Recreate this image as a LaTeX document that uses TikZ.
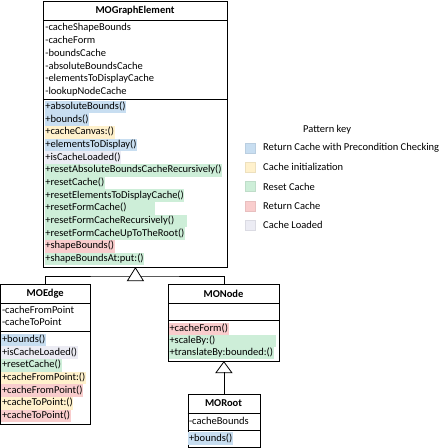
\documentclass[tikz,border=0pt]{standalone}
\usepackage{fontspec}
\setmainfont{Carlito}
\definecolor{hlblue}{RGB}{200,222,241}
\definecolor{hlyellow}{RGB}{255,241,204}
\definecolor{hlgreen}{RGB}{205,238,216}
\definecolor{hlred}{RGB}{249,205,205}
\definecolor{hlgray}{RGB}{236,236,244}
\newcommand\hrow[6][]{\node[rowtext,fill=#5,#1] (#2) at (#3,#4) {#6};}
\newcommand\prow[4]{\node[rowtext] (#1) at (#2,#3) {#4};}
\begin{document}
\begin{tikzpicture}[x=1pt,y=-1pt,
  every node/.style={font=\fontsize{10.5}{12.6}\selectfont},
  rowtext/.style={anchor=west,inner xsep=0.6pt,inner ysep=0pt,minimum height=12.7pt,text height=7.6pt,text depth=2.4pt},
  umlbox/.style={draw,line width=0.8pt,anchor=north west,inner sep=0pt},
  ttl/.style={font=\fontsize{10.5}{12.6}\selectfont\bfseries,inner sep=0pt},
  swatch/.style={minimum size=10pt,inner sep=0pt,line width=0.3pt},
  conn/.style={line width=0.8pt},
  gen/.style={line width=0.8pt,fill=white}]
\useasboundingbox (0,0) rectangle (442,448);
% ---------- MOGraphElement
\node[umlbox,minimum width=184pt,minimum height=266pt] (ge) at (43,1) {};
\node[ttl] (get) at (135,10.5) {MOGraphElement};
\draw[line width=0.8pt] (43,20) -- (227,20);
\draw[line width=0.8pt] (43,99) -- (227,99);
\prow{a1}{44.5}{28}{-cacheShapeBounds}
\prow{a2}{44.5}{40.8}{-cacheForm}
\prow{a3}{44.5}{53.6}{-boundsCache}
\prow{a4}{44.5}{66.4}{-absoluteBoundsCache}
\prow{a5}{44.5}{79.2}{-elementsToDisplayCache}
\prow{a6}{44.5}{92}{-lookupNodeCache}
\hrow{m1}{44.5}{107}{hlblue}{+absoluteBounds()}
\hrow{m2}{44.5}{119.67}{hlblue}{+bounds()}
\hrow{m3}{44.5}{132.33}{hlyellow}{+cacheCanvas:()}
\hrow{m4}{44.5}{145}{hlblue}{+elementsToDisplay()}
\hrow{m5}{44.5}{157.67}{hlgray}{+isCacheLoaded()}
\hrow{m6}{44.5}{170.33}{hlgreen}{+resetAbsoluteBoundsCacheRecursively()}
\hrow{m7}{44.5}{183}{hlgreen}{+resetCache()}
\hrow{m8}{44.5}{195.67}{hlgreen}{+resetElementsToDisplayCache()}
\hrow[text width=109pt,align=left]{m9}{44.5}{208.33}{hlgreen}{+resetFormCache()}
\hrow[text width=141pt,align=left]{m10}{44.5}{221}{hlgreen}{+resetFormCacheRecursively()}
\hrow{m11}{44.5}{233.67}{hlgreen}{+resetFormCacheUpToTheRoot()}
\hrow{m12}{44.5}{246.33}{hlred}{+shapeBounds()}
\hrow{m13}{44.5}{259}{hlgreen}{+shapeBoundsAt:put:()}
% ---------- Legend
\node[anchor=west,inner sep=0pt] (pk) at (303,130) {Pattern key};
\node[swatch,fill=hlblue,draw=hlblue!93!black] (s1) at (250,148) {};
\node[swatch,fill=hlyellow,draw=hlyellow!93!black] (s2) at (250,167.3) {};
\node[swatch,fill=hlgreen,draw=hlgreen!93!black] (s3) at (250,186.6) {};
\node[swatch,fill=hlred,draw=hlred!93!black] (s4) at (250,205.9) {};
\node[swatch,fill=hlgray,draw=hlgray!93!black] (s5) at (250,225.2) {};
\node[anchor=west,inner sep=0pt] (l1) at (263,148) {Return Cache with Precondition Checking};
\node[anchor=west,inner sep=0pt] (l2) at (263,167.3) {Cache initialization};
\node[anchor=west,inner sep=0pt] (l3) at (263,186.6) {Reset Cache};
\node[anchor=west,inner sep=0pt] (l4) at (263,205.9) {Return Cache};
\node[anchor=west,inner sep=0pt] (l5) at (263,225.2) {Cache Loaded};
% ---------- MOEdge
\node[umlbox,minimum width=89.5pt,minimum height=140pt] (me) at (0.5,284) {};
\node[ttl] (met) at (45.25,293.5) {MOEdge};
\draw[line width=0.8pt] (0.5,303) -- (90,303);
\draw[line width=0.8pt] (0.5,331) -- (90,331);
\prow{e1}{1.2}{311}{-cacheFromPoint}
\prow{e2}{1.2}{323}{-cacheToPoint}
\hrow{em1}{1.2}{340}{hlblue}{+bounds()}
\hrow{em2}{1.2}{352.67}{hlgray}{+isCacheLoaded()}
\hrow{em3}{1.2}{365.33}{hlgreen}{+resetCache()}
\hrow{em4}{1.2}{378}{hlyellow}{+cacheFromPoint:()}
\hrow{em5}{1.2}{390.67}{hlred}{+cacheFromPoint()}
\hrow{em6}{1.2}{403.33}{hlyellow}{+cacheToPoint:()}
\hrow{em7}{1.2}{416}{hlred}{+cacheToPoint()}
% ---------- MONode
\node[umlbox,minimum width=111pt,minimum height=77pt] (mn) at (168,284) {};
\node[ttl] (mnt) at (223.5,293.5) {MONode};
\draw[line width=0.8pt] (168,303) -- (279,303);
\draw[line width=0.8pt] (168,320) -- (279,320);
\hrow{n1}{168.7}{329}{hlred}{+cacheForm()}
\hrow[text width=106pt,align=left]{n2}{168.7}{341}{hlgreen}{+scaleBy:()}
\hrow{n3}{168.7}{353}{hlgreen}{+translateBy:bounded:()}
% ---------- MORoot
\node[umlbox,minimum width=72pt,minimum height=53pt] (mr) at (187.5,394) {};
\node[ttl] (mrt) at (223.5,403.5) {MORoot};
\draw[line width=0.8pt] (187.5,413) -- (259.5,413);
\draw[line width=0.8pt] (187.5,430) -- (259.5,430);
\prow{r1}{188.2}{421.5}{-cacheBounds}
\hrow{r2}{188.2}{438.5}{hlblue}{+bounds()}
% ---------- Generalizations
\coordinate (j) at (135,276);
\draw[conn] (me.north) |- (j) -| (mn.north);
\draw[gen] (ge.south) -- ++(-8,13) -- ++(16,0) -- cycle;
\draw[gen] (mn.south) -- ++(-8,11) coordinate (t2a) -- ++(16,0) -- cycle;
\coordinate (t2) at (mn.south |- 0,372);
\draw[conn] (t2) -- (mr.north);
\end{tikzpicture}
\end{document}
